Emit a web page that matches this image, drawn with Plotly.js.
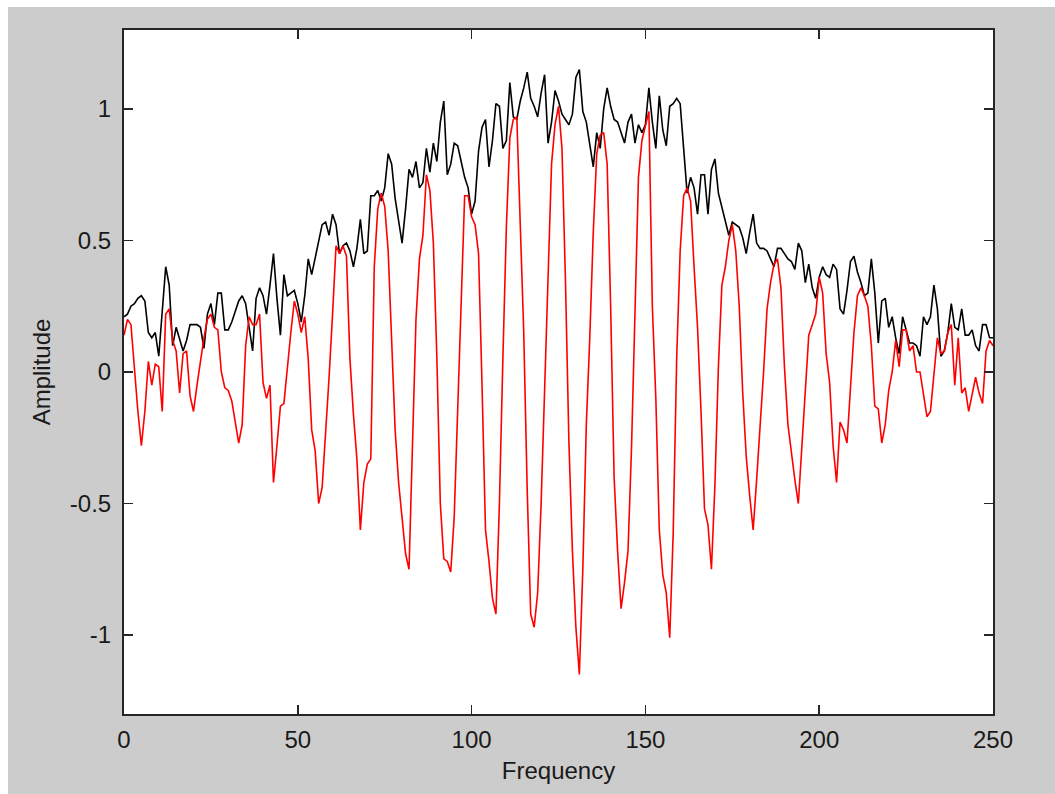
<!DOCTYPE html>
<html>
<head>
<meta charset="utf-8">
<script src="https://cdn.plot.ly/plotly-3.0.1.min.js"></script>
<style>
  html, body { margin: 0; padding: 0; background: #ffffff; }
  #chart { position: absolute; left: 8px; top: 7px; width: 1047px; height: 787px; }
</style>
</head>
<body>
<div id="chart"></div>
<script>
// Frequency axis: starts at 0, one sample per unit of frequency
const freqStart = 0;
const freqStep = 1;

// Magnitude (black trace), frequency 0..250
const magnitude = [
  0.21,0.22,0.25,0.26,0.28,0.29,0.27,0.15,0.13,0.15,
  0.06,0.25,0.40,0.33,0.10,0.17,0.12,0.08,0.12,0.18,
  0.18,0.18,0.17,0.09,0.22,0.26,0.18,0.30,0.30,0.16,
  0.16,0.19,0.23,0.27,0.29,0.26,0.17,0.08,0.28,0.32,
  0.29,0.22,0.33,0.45,0.28,0.14,0.37,0.29,0.30,0.31,
  0.26,0.19,0.29,0.43,0.37,0.43,0.50,0.56,0.57,0.52,
  0.60,0.56,0.45,0.48,0.49,0.46,0.40,0.47,0.58,0.45,
  0.46,0.67,0.67,0.69,0.65,0.70,0.83,0.79,0.66,0.57,
  0.49,0.62,0.77,0.74,0.80,0.70,0.72,0.85,0.76,0.87,
  0.80,0.95,1.03,0.75,0.79,0.87,0.86,0.80,0.74,0.70,
  0.60,0.65,0.84,0.93,0.96,0.78,0.88,1.02,1.01,0.85,
  0.88,1.10,0.97,0.96,1.03,1.08,1.14,1.04,1.01,0.97,
  1.06,1.13,0.87,0.95,1.07,1.03,0.98,0.96,0.94,0.98,
  1.12,1.15,0.99,0.95,0.87,0.78,0.91,0.85,1.00,1.08,
  1.01,0.96,0.95,0.91,0.87,0.95,0.98,0.87,0.94,0.91,
  0.94,1.08,0.95,0.85,1.05,0.92,0.86,1.01,1.02,1.04,
  1.02,0.85,0.68,0.74,0.70,0.60,0.75,0.75,0.60,0.77,
  0.81,0.68,0.63,0.57,0.52,0.57,0.56,0.55,0.51,0.45,
  0.53,0.60,0.49,0.47,0.47,0.46,0.43,0.40,0.47,0.47,
  0.45,0.43,0.42,0.39,0.49,0.46,0.34,0.41,0.32,0.28,
  0.36,0.40,0.37,0.36,0.41,0.39,0.24,0.22,0.31,0.42,
  0.44,0.38,0.34,0.29,0.30,0.43,0.30,0.11,0.27,0.28,
  0.17,0.21,0.13,0.07,0.21,0.16,0.11,0.11,0.10,0.06,
  0.21,0.18,0.21,0.33,0.24,0.06,0.08,0.15,0.26,0.17,
  0.16,0.24,0.14,0.14,0.16,0.10,0.08,0.18,0.18,0.13,
  0.13
];

// Real part (red trace), frequency 0..250
const realPart = [
  0.14,0.20,0.18,0.00,-0.15,-0.28,-0.15,0.04,-0.05,0.03,
  0.02,-0.15,0.22,0.24,0.12,0.08,-0.08,0.07,0.08,-0.09,
  -0.15,-0.05,0.05,0.13,0.20,0.22,0.17,0.16,0.00,-0.06,
  -0.07,-0.11,-0.19,-0.27,-0.20,0.10,0.21,0.18,0.18,0.22,
  -0.04,-0.10,-0.05,-0.42,-0.28,-0.13,-0.12,0.03,0.15,0.27,
  0.22,0.15,0.21,0.05,-0.22,-0.30,-0.50,-0.44,-0.25,-0.02,
  0.22,0.48,0.45,0.48,0.44,0.05,-0.16,-0.33,-0.60,-0.42,
  -0.35,-0.33,0.40,0.62,0.68,0.63,0.46,0.10,-0.22,-0.42,
  -0.55,-0.69,-0.75,-0.31,0.20,0.43,0.52,0.75,0.69,0.49,
  0.06,-0.50,-0.71,-0.72,-0.76,-0.55,-0.15,0.25,0.67,0.67,
  0.59,0.56,0.45,-0.05,-0.60,-0.72,-0.86,-0.92,-0.50,0.05,
  0.55,0.89,0.96,0.97,0.60,0.15,-0.45,-0.92,-0.97,-0.84,
  -0.50,-0.08,0.31,0.79,0.94,1.01,0.85,0.35,-0.27,-0.68,
  -0.97,-1.15,-0.75,-0.20,0.13,0.53,0.83,0.90,0.91,0.79,
  0.25,-0.40,-0.68,-0.90,-0.80,-0.68,-0.29,0.25,0.74,0.88,
  0.93,0.99,0.25,-0.10,-0.60,-0.77,-0.84,-1.01,-0.61,0.05,
  0.46,0.67,0.70,0.65,0.40,0.17,-0.15,-0.52,-0.58,-0.75,
  -0.43,0.02,0.33,0.40,0.50,0.56,0.46,0.25,-0.08,-0.32,
  -0.47,-0.60,-0.41,-0.22,0.00,0.24,0.34,0.41,0.43,0.32,
  0.02,-0.20,-0.31,-0.41,-0.50,-0.29,-0.05,0.14,0.18,0.22,
  0.36,0.30,0.07,-0.04,-0.28,-0.42,-0.19,-0.22,-0.27,-0.08,
  0.15,0.29,0.32,0.29,0.25,0.10,-0.13,-0.14,-0.27,-0.20,
  -0.07,0.00,0.12,0.02,0.16,0.16,0.08,0.10,0.00,0.00,
  -0.08,-0.17,-0.15,0.00,0.13,0.07,0.08,0.15,0.18,-0.05,
  0.13,-0.08,-0.06,-0.15,-0.08,-0.02,-0.08,-0.12,0.08,0.12,
  0.10
];

const xTickVals = [0, 50, 100, 150, 200, 250];
const xTickText = ['0', '50', '100', '150', '200', '250'];
const yTickVals = [-1, -0.5, 0, 0.5, 1];
const yTickText = ['-1', '-0.5', '0', '0.5', '1'];

const font = '"Liberation Sans", Arial, Helvetica, sans-serif';

const traces = [
  {
    y: magnitude, x0: freqStart, dx: freqStep,
    type: 'scatter', mode: 'lines',
    line: { color: '#000000', width: 1.6 },
    name: 'Magnitude', hoverinfo: 'x+y'
  },
  {
    y: realPart, x0: freqStart, dx: freqStep,
    type: 'scatter', mode: 'lines',
    line: { color: '#ff0000', width: 1.6 },
    name: 'Real', hoverinfo: 'x+y'
  }
];

const axisCommon = {
  showgrid: false, zeroline: false,
  showline: true, linecolor: '#262626', linewidth: 2,
  mirror: 'ticks', ticks: 'inside', ticklen: 9, tickwidth: 1.5, tickcolor: '#262626',
  tickfont: { family: font, size: 24, color: '#1a1a1a' }
};

const layout = {
  width: 1047, height: 787,
  paper_bgcolor: '#cccccc', plot_bgcolor: '#ffffff',
  margin: { l: 116, r: 62, t: 23, b: 80 },
  showlegend: false,
  xaxis: Object.assign({}, axisCommon, {
    range: [0, 250], tickvals: xTickVals, ticktext: xTickText,
    ticklabelstandoff: 3,
    title: { text: 'Frequency', font: { family: font, size: 24, color: '#1a1a1a' }, standoff: 10 }
  }),
  yaxis: Object.assign({}, axisCommon, {
    range: [-1.3, 1.3], tickvals: yTickVals, ticktext: yTickText,
    ticklabelstandoff: 6,
    title: { text: 'Amplitude', font: { family: font, size: 24, color: '#1a1a1a' }, standoff: 12 }
  })
};

Plotly.newPlot('chart', traces, layout, { displayModeBar: false, staticPlot: true });
</script>
</body>
</html>
